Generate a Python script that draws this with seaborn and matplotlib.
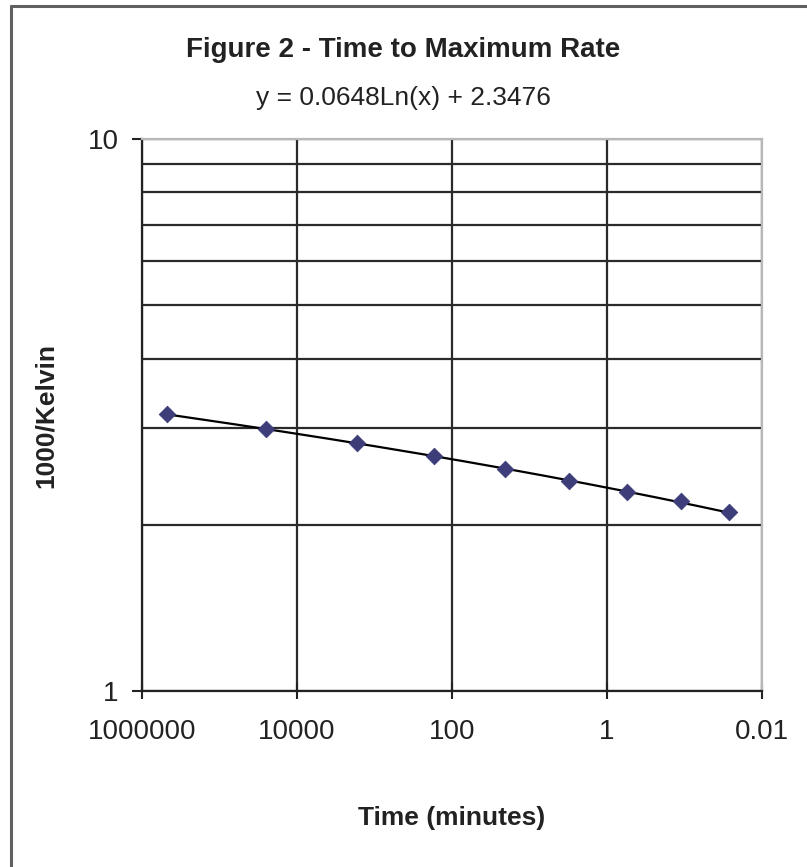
import numpy as np
import pandas as pd
import matplotlib
matplotlib.use('Agg')
import matplotlib.pyplot as plt
import matplotlib.ticker as mticker
from matplotlib.lines import Line2D
import seaborn as sns


# Data
time_min = [475000, 25000, 1700, 170, 20.7, 3.1, 0.55, 0.11, 0.027]
inv_kelvin = [3.18, 2.98, 2.81, 2.66, 2.52, 2.40, 2.29, 2.21, 2.11]
x_ticks = [1000000, 10000, 100, 1, 0.01]
x_ticklabels = ['1000000', '10000', '100', '1', '0.01']
y_ticks = [1, 10]
y_ticklabels = ['1', '10']

pts = pd.DataFrame({'time': time_min, 'kelvin': inv_kelvin})

# Log trendline, as Excel does it
slope, icept = np.polyfit(np.log(pts['time']), pts['kelvin'], 1)
xx = np.geomspace(pts['time'].min(), pts['time'].max(), 200)
trend = pd.DataFrame({'time': xx, 'kelvin': slope * np.log(xx) + icept})

sns.set_style('white')
plt.rcParams['font.family'] = ['Liberation Sans', 'DejaVu Sans']

fig = plt.figure(figsize=(8.07, 8.67), dpi=100)
ax = fig.add_axes([142 / 807, 1 - 691 / 867, 620 / 807, 552 / 867])

sns.lineplot(x='time', y='kelvin', data=trend, color='black', linewidth=1.6,
             zorder=3, ax=ax)
sns.scatterplot(x='time', y='kelvin', data=pts, marker='D', s=70,
                color='#3d3d7a', edgecolor='#3d3d7a', zorder=4, ax=ax)

ax.set_xscale('log')
ax.set_yscale('log')
ax.set_xlim(1000000, 0.01)
ax.set_ylim(1, 10)

ax.set_xticks(x_ticks)
ax.set_xticklabels(x_ticklabels)
ax.xaxis.set_minor_locator(mticker.NullLocator())
ax.set_yticks(y_ticks)
ax.set_yticklabels(y_ticklabels)
ax.yaxis.set_minor_locator(mticker.LogLocator(base=10, subs=np.arange(2, 10)))
ax.yaxis.set_minor_formatter(mticker.NullFormatter())

ax.grid(True, which='major', axis='x', color='#2a2a2a', linewidth=1.6)
ax.grid(True, which='both', axis='y', color='#2a2a2a', linewidth=1.6)
ax.tick_params(axis='y', which='minor', length=0)
ax.tick_params(axis='y', which='major', left=True, direction='out', length=7,
               width=1.5, color='#222222', labelsize=20, pad=10)
ax.tick_params(axis='x', which='major', bottom=True, direction='inout',
               length=12, width=1.5, color='#222222', labelsize=20, pad=14)
for lab in ax.get_xticklabels() + ax.get_yticklabels():
    lab.set_color('#222222')

for side in ['left', 'bottom']:
    ax.spines[side].set_color('#222222')
    ax.spines[side].set_linewidth(1.6)
for side in ['top', 'right']:
    ax.spines[side].set_color('#b8b8b8')
    ax.spines[side].set_linewidth(1.6)
ax.set_axisbelow(True)

ax.set_xlabel('Time (minutes)', fontsize=19, fontweight='bold',
              color='#222222', labelpad=44)
ax.set_ylabel('1000/Kelvin', fontsize=19, fontweight='bold',
              color='#222222', labelpad=21)

fig.text(0.5, 1 - 57 / 867, 'Figure 2 - Time to Maximum Rate', ha='center',
         va='baseline', fontsize=20, fontweight='bold', color='#222222')
fig.text(0.5, 1 - 105 / 867, 'y = 0.0648Ln(x) + 2.3476', ha='center',
         va='baseline', fontsize=19, color='#222222')

# Chart area border
fig.add_artist(Line2D([11 / 807, 1], [1 - 6 / 867, 1 - 6 / 867],
                      transform=fig.transFigure, color='#606060', linewidth=2.2))
fig.add_artist(Line2D([11 / 807, 11 / 807], [0, 1 - 6 / 867],
                      transform=fig.transFigure, color='#606060', linewidth=2.2))

plt.savefig('out.png', dpi=100)
